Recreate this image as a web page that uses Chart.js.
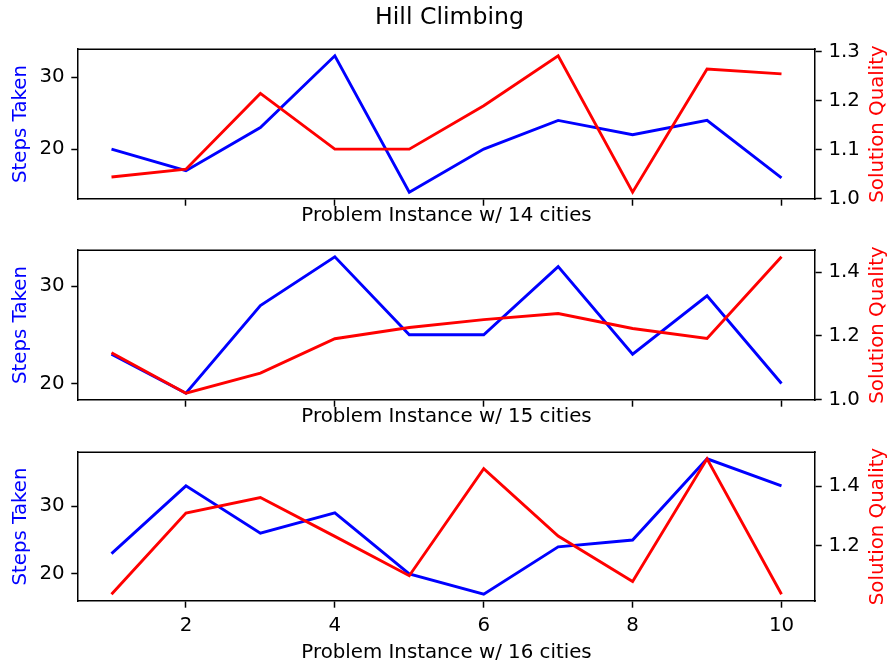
<!DOCTYPE html>
<html>
<head>
<meta charset="utf-8">
<script src="https://cdn.jsdelivr.net/npm/chart.js@4/dist/chart.umd.min.js"></script>
<style>
  html, body { margin: 0; padding: 0; background: #fff; }
  #wrap { position: relative; width: 893px; height: 668px; overflow: hidden; }
  #wrap canvas { position: absolute; left: 0; top: 0; }
  #suptitle {
    position: absolute; left: 3px; top: 5px; width: 893px;
    text-align: center; font-family: "DejaVu Sans", sans-serif;
    font-size: 23.6px; line-height: 23.6px; color: #000; white-space: nowrap;
  }
</style>
</head>
<body>
<div id="wrap">
  <canvas id="p14" width="893" height="668"></canvas>
  <canvas id="p15" width="893" height="668"></canvas>
  <canvas id="p16" width="893" height="668"></canvas>
  <div id="suptitle">Hill Climbing</div>
</div>
<script>
// Problem instances on the shared x axis
const instances = [1, 2, 3, 4, 5, 6, 7, 8, 9, 10];

// Steps taken (left axis) and solution quality (right axis) per city count
const steps14   = [20, 17, 23, 33, 14, 20, 24, 22, 24, 16];
const quality14 = [1.044, 1.060, 1.215, 1.101, 1.101, 1.190, 1.292, 1.013, 1.265, 1.255];

const steps15   = [23, 19, 28, 33, 25, 25, 32, 23, 29, 20];
const quality15 = [1.147, 1.020, 1.083, 1.191, 1.226, 1.251, 1.270, 1.223, 1.192, 1.448];

const steps16   = [23, 33, 26, 29, 20, 17, 24, 25, 37, 33];
const quality16 = [1.038, 1.310, 1.362, 1.232, 1.100, 1.459, 1.233, 1.081, 1.492, 1.038];

// Tick labels
const xTicks = [2, 4, 6, 8, 10];
const stepsTicks = [20, 30];
const qualityTicks14 = [1.0, 1.1, 1.2, 1.3];
const qualityTicks15 = [1.0, 1.2, 1.4];
const qualityTicks16 = [1.2, 1.4];

const FONT = "DejaVu Sans";
const FS = 19.8;
const TICK_LEN = 6.7;
const TICK_PAD = 6.7;
const LINE_W = 2.9;
const SPINE_W = 1.5;
const W = 893, H = 668;
const PLOT_LEFT = 78, PLOT_RIGHT = 815;

// axis range with a 5% margin on both sides of the data
function padded(values) {
  const lo = Math.min(...values), hi = Math.max(...values);
  const m = (hi - lo) * 0.05;
  return { min: lo - m, max: hi + m };
}

// top spine and the upward-reading right-hand axis label
const framePlugin = {
  id: 'frame',
  afterDraw(chart, args, opts) {
    const { ctx, chartArea: a } = chart;
    ctx.save();
    ctx.strokeStyle = '#000';
    ctx.lineWidth = SPINE_W;
    ctx.beginPath();
    ctx.moveTo(a.left - SPINE_W / 2, Math.round(a.top) + 0.25);
    ctx.lineTo(a.right + SPINE_W / 2, Math.round(a.top) + 0.25);
    ctx.stroke();
    ctx.translate(opts.rightTitleX, (a.top + a.bottom) / 2);
    ctx.rotate(-Math.PI / 2);
    ctx.fillStyle = '#ff0000';
    ctx.font = FS + 'px "' + FONT + '"';
    ctx.textAlign = 'center';
    ctx.textBaseline = 'middle';
    ctx.fillText(opts.rightTitle, 0, 0);
    ctx.restore();
  }
};

function makePanel(id, steps, quality, qTicks, xTitle, top, bottom, xHeight, showXLabels) {
  const stepsRange = padded(steps);
  const qualityRange = padded(quality);
  const xRange = padded(instances);
  const font = { family: FONT, size: FS };
  const tickGrid = {
    display: true, drawOnChartArea: false, drawTicks: true,
    tickLength: TICK_LEN, tickWidth: SPINE_W, tickColor: '#000'
  };
  const border = { display: true, color: '#000', width: SPINE_W };

  new Chart(document.getElementById(id), {
    type: 'line',
    data: {
      datasets: [
        {
          label: 'Solution Quality',
          data: instances.map((x, i) => ({ x, y: quality[i] })),
          yAxisID: 'yq',
          borderColor: '#ff0000',
          borderWidth: LINE_W,
          pointRadius: 0,
          tension: 0,
          fill: false,
          order: 0
        },
        {
          label: 'Steps Taken',
          data: instances.map((x, i) => ({ x, y: steps[i] })),
          yAxisID: 'ys',
          borderColor: '#0000ff',
          borderWidth: LINE_W,
          pointRadius: 0,
          tension: 0,
          fill: false,
          order: 1
        }
      ]
    },
    options: {
      responsive: false,
      animation: false,
      events: [],
      layout: { padding: { top: top, left: 0, right: 0, bottom: H - bottom - xHeight } },
      plugins: {
        legend: { display: false },
        tooltip: { enabled: false },
        title: { display: false },
        frame: { rightTitle: 'Solution Quality', rightTitleX: 878 }
      },
      scales: {
        x: {
          type: 'linear',
          position: 'bottom',
          bounds: 'data',
          min: xRange.min,
          max: xRange.max,
          afterBuildTicks: s => { s.ticks = xTicks.map(v => ({ value: v })); },
          afterFit: s => { s.height = xHeight; },
          grid: tickGrid,
          border: border,
          ticks: {
            color: '#000', font: font, padding: TICK_PAD,
            maxRotation: 0, autoSkip: false,
            callback: v => (showXLabels ? String(v) : '')
          },
          title: {
            display: true, text: xTitle, color: '#000', font: font,
            padding: { top: 0, bottom: 0 }
          }
        },
        ys: {
          type: 'linear',
          position: 'left',
          bounds: 'data',
          min: stepsRange.min,
          max: stepsRange.max,
          afterBuildTicks: s => { s.ticks = stepsTicks.map(v => ({ value: v })); },
          afterFit: s => { s.width = PLOT_LEFT; },
          grid: tickGrid,
          border: border,
          ticks: { color: '#000', font: font, padding: TICK_PAD, callback: v => String(v) },
          title: {
            display: true, text: 'Steps Taken', color: '#0000ff', font: font,
            padding: { top: 8.6, bottom: 0 }
          }
        },
        yq: {
          type: 'linear',
          position: 'right',
          bounds: 'data',
          min: qualityRange.min,
          max: qualityRange.max,
          afterBuildTicks: s => { s.ticks = qTicks.map(v => ({ value: v })); },
          afterFit: s => { s.width = W - PLOT_RIGHT; },
          grid: tickGrid,
          border: border,
          ticks: { color: '#000', font: font, padding: TICK_PAD, callback: v => v.toFixed(1) },
          title: { display: false }
        }
      }
    },
    plugins: [framePlugin]
  });
}

makePanel('p14', steps14, quality14, qualityTicks14, 'Problem Instance w/ 14 cities', 49, 199, 28.4, false);
makePanel('p15', steps15, quality15, qualityTicks15, 'Problem Instance w/ 15 cities', 250, 400, 28.4, false);
makePanel('p16', steps16, quality16, qualityTicks16, 'Problem Instance w/ 16 cities', 452, 601, 63.6, true);
</script>
</body>
</html>
